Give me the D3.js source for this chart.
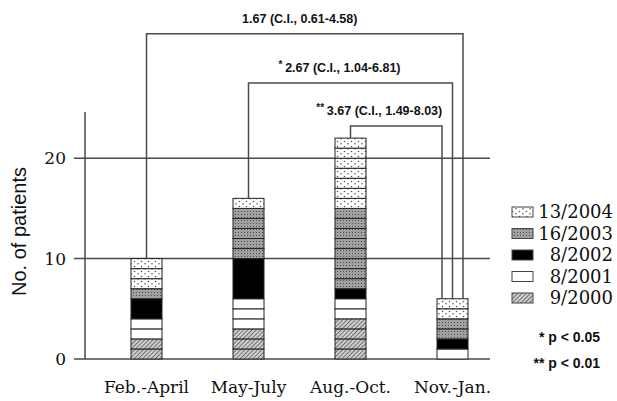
<!DOCTYPE html>
<html>
<head>
<meta charset="utf-8">
<script src="https://cdn.jsdelivr.net/npm/d3@7"></script>
<style>
  body { margin: 0; background: #fff; }
  svg { display: block; }
</style>
</head>
<body>
<svg width="617" height="401"></svg>
<script>
// categories and series (stack order bottom -> top)
const periods = ["Feb.-April", "May-July", "Aug.-Oct.", "Nov.-Jan."];
const seriesNames = ["9/2000", "8/2001", "8/2002", "16/2003", "13/2004"];
const v2000 = [2, 3, 4, 0];
const v2001 = [2, 3, 2, 1];
const v2002 = [2, 4, 1, 1];
const v2003 = [1, 5, 8, 2];
const v2004 = [3, 1, 7, 2];
const yTicks = [0, 10, 20];

// odds ratio comparisons against Nov.-Jan.
const cmpFrom = ["Feb.-April", "May-July", "Aug.-Oct."];
const cmpTo = "Nov.-Jan.";
const cmpText = ["1.67 (C.I., 0.61-4.58)", "2.67 (C.I., 1.04-6.81)", "3.67 (C.I., 1.49-8.03)"];
const cmpStars = ["", "*", "**"];
const cmpLevel = [32.4, 27.5, 23.2];   // height of the bracket, in patients

const pNotes = ["* p < 0.05", "** p < 0.01"];

const svg = d3.select("svg");
const area = { left: 85, right: 490, top: 112, bottom: 359 };
const lineCol = "#4a4a4a";
const textCol = "#111";

// fill patterns
const defs = svg.append("defs");

let p = defs.append("pattern").attr("id", "pDots").attr("patternUnits", "userSpaceOnUse")
    .attr("width", 7).attr("height", 5);
p.append("rect").attr("width", 7).attr("height", 5).attr("fill", "#fff");
p.append("circle").attr("cx", 1.5).attr("cy", 1.5).attr("r", 0.8).attr("fill", "#555");
p.append("circle").attr("cx", 5).attr("cy", 3.8).attr("r", 0.8).attr("fill", "#555");

p = defs.append("pattern").attr("id", "pGrey").attr("patternUnits", "userSpaceOnUse")
    .attr("width", 3).attr("height", 3);
p.append("rect").attr("width", 3).attr("height", 3).attr("fill", "#a0a0a0");
p.append("rect").attr("x", 1).attr("y", 1).attr("width", 1).attr("height", 1).attr("fill", "#505050");

p = defs.append("pattern").attr("id", "pHatch").attr("patternUnits", "userSpaceOnUse")
    .attr("width", 3).attr("height", 3).attr("patternTransform", "rotate(45)");
p.append("rect").attr("width", 3).attr("height", 3).attr("fill", "#cfcfcf");
p.append("line").attr("x1", 0).attr("y1", 0).attr("x2", 0).attr("y2", 3)
    .attr("stroke", "#333").attr("stroke-width", 1.2);

const fills = {
    "9/2000": "url(#pHatch)",
    "8/2001": "#fff",
    "8/2002": "#000",
    "16/2003": "url(#pGrey)",
    "13/2004": "url(#pDots)"
};

// scales
const scX = d3.scaleBand().domain(periods).range([95.5, 503.5]);
const scY = d3.scaleLinear().domain([0, 24.6]).range([area.bottom, area.top]);
const cx = d => scX(d) + scX.bandwidth() / 2;
const barW = 31;

// axes and grid
svg.append("line")
    .attr("x1", area.left).attr("x2", area.left)
    .attr("y1", scY(0)).attr("y2", scY(24.6))
    .attr("stroke", lineCol).attr("stroke-width", 1.5);

svg.selectAll(".grid").data(yTicks).enter().append("line")
    .attr("x1", 74).attr("x2", area.right)
    .attr("y1", d => scY(d)).attr("y2", d => scY(d))
    .attr("stroke", lineCol).attr("stroke-width", 1.5);

svg.selectAll(".ytick").data(yTicks).enter().append("text")
    .attr("x", 66).attr("y", d => scY(d)).attr("dy", "0.36em")
    .attr("text-anchor", "end")
    .style("font-family", "DejaVu Serif").style("font-size", "17px").attr("fill", textCol)
    .text(d => d);

svg.append("text")
    .attr("transform", `translate(26, ${(area.top + area.bottom) / 2 - 4}) rotate(-90)`)
    .attr("text-anchor", "middle")
    .style("font-family", "Liberation Sans, Arial").style("font-size", "20px").attr("fill", textCol)
    .text("No. of patients");

svg.selectAll(".xlab").data(periods).enter().append("text")
    .attr("x", d => cx(d)).attr("y", 393)
    .attr("text-anchor", "middle")
    .style("font-family", "DejaVu Serif").style("font-size", "17px").attr("fill", textCol)
    .text(d => d);

// stacked bars, one cell per patient (the black series is drawn solid)
const rows = periods.map((d, i) => ({
    period: d,
    "9/2000": v2000[i], "8/2001": v2001[i], "8/2002": v2002[i],
    "16/2003": v2003[i], "13/2004": v2004[i]
}));
const stacked = d3.stack().keys(seriesNames)(rows);

stacked.forEach(layer => {
    layer.forEach(seg => {
        const n = seg[1] - seg[0];
        if (n <= 0) return;
        const cells = layer.key === "8/2002"
            ? [[seg[0], seg[1]]]
            : d3.range(n).map(k => [seg[0] + k, seg[0] + k + 1]);
        svg.selectAll(null).data(cells).enter().append("rect")
            .attr("x", cx(seg.data.period) - barW / 2)
            .attr("width", barW)
            .attr("y", d => scY(d[1]))
            .attr("height", d => scY(d[0]) - scY(d[1]))
            .attr("fill", fills[layer.key])
            .attr("stroke", "#222").attr("stroke-width", 1);
    });
});

const totals = rows.map(r => d3.sum(seriesNames, k => r[k]));

// comparison brackets
cmpFrom.forEach((from, i) => {
    const x1 = cx(from);
    const x2 = cx(cmpTo) + (1 - i) * 10.5;
    const yTop = scY(cmpLevel[i]);
    const path = d3.path();
    path.moveTo(x1, scY(totals[periods.indexOf(from)]));
    path.lineTo(x1, yTop);
    path.lineTo(x2, yTop);
    path.lineTo(x2, scY(totals[periods.indexOf(cmpTo)]));
    svg.append("path").attr("d", path.toString())
        .attr("fill", "none").attr("stroke", lineCol).attr("stroke-width", 1.5);

    const t = svg.append("text")
        .attr("x", (x1 + x2) / 2 - 5 - 6 * i)
        .attr("y", yTop - 11)
        .attr("text-anchor", "middle")
        .style("font-family", "Liberation Sans, Arial").style("font-weight", "bold")
        .style("font-size", "12.5px").attr("fill", textCol);
    if (cmpStars[i]) {
        t.append("tspan").attr("dy", -4).style("font-size", "10px").text(cmpStars[i] + " ");
        t.append("tspan").attr("dy", 4).text(cmpText[i]);
    } else {
        t.text(cmpText[i]);
    }
});

// legend, top entry = last series
const legendOrder = seriesNames.slice().reverse();
const lg = svg.append("g");
legendOrder.forEach((k, i) => {
    const y = 212 + i * 21.5;
    lg.append("rect").attr("x", 512).attr("y", y - 5).attr("width", 21).attr("height", 10)
        .attr("fill", fills[k]).attr("stroke", "#444").attr("stroke-width", 1);
    lg.append("text").attr("x", 613).attr("y", y).attr("dy", "0.36em")
        .attr("text-anchor", "end")
        .style("font-family", "DejaVu Serif").style("font-size", "18px").attr("fill", textCol)
        .text(k);
});

pNotes.forEach((s, i) => {
    svg.append("text").attr("x", 600).attr("y", 337 + i * 26).attr("dy", "0.36em")
        .attr("text-anchor", "end")
        .style("font-family", "Liberation Sans, Arial").style("font-weight", "bold")
        .style("font-size", "14px").attr("fill", textCol)
        .text(s);
});
</script>
</body>
</html>
